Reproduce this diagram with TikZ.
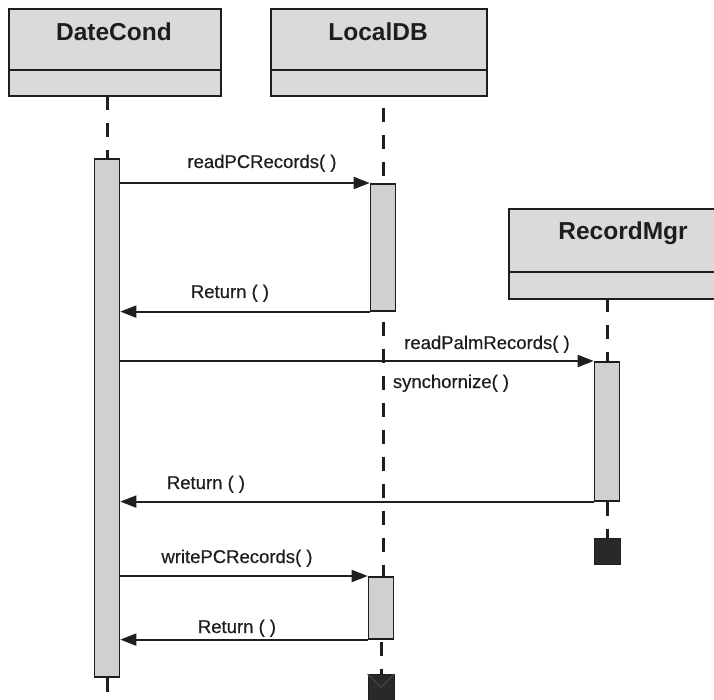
\documentclass[tikz,border=0pt]{standalone}
\usepackage{fontspec}
\setmainfont{Liberation Sans}
\newfontfamily\labelfont[FakeBold=0.5]{Liberation Sans}
\usetikzlibrary{arrows.meta}
\definecolor{hdrgray}{HTML}{DADADA}
\definecolor{actgray}{HTML}{D0D0D0}
\definecolor{ink}{HTML}{1E1E1E}
\tikzset{
  objbox/.style={draw=ink, line width=2pt, fill=hdrgray, anchor=north west, inner sep=0pt},
  objname/.style={font=\bfseries\fontsize{24.5}{28}\selectfont, text=ink, inner sep=0pt},
  actbox/.style={draw=ink, line width=1.6pt, fill=actgray, anchor=north, minimum width=25pt, inner sep=0pt},
  lifeline/.style={draw=ink, line width=3pt, dash pattern=on 14pt off 13pt},
  msg/.style={draw=ink, line width=1.8pt, -{Triangle[length=16pt,width=12pt]}},
  msglabel/.style={font=\labelfont\fontsize{18.5}{22}\selectfont, text=ink, inner sep=0pt, anchor=base},
  stopbox/.style={draw=ink, line width=1pt, fill=ink!95, minimum size=26pt, inner sep=0pt, anchor=north}
}
\begin{document}
\begin{tikzpicture}[x=1pt,y=-1pt]
\useasboundingbox (0,0) rectangle (714,700);
\clip (0,0) rectangle (714,700);

% object headers
\node[objbox, minimum width=212pt, minimum height=87pt] (dc) at (8,8) {};
\node[objbox, minimum width=216pt, minimum height=87pt] (ldb) at (270,8) {};
\node[objbox, minimum width=230pt, minimum height=90pt] (rm) at (508,208) {};
\draw[ink, line width=2pt] (8,70) -- (220,70);
\draw[ink, line width=2pt] (270,70) -- (486,70);
\draw[ink, line width=2pt] (508,272) -- (738,272);
\node[objname] (dcname) at (114,32) {DateCond};
\node[objname] (ldbname) at (378,32) {LocalDB};
\node[objname] (rmname) at (623,233) {RecordMgr};

% activation bars
\node[actbox, minimum height=518pt] (a1) at (107,158) {};
\node[actbox, minimum height=127pt] (b1) at (383,183) {};
\node[actbox, minimum height=139pt] (c1) at (607,361) {};
\node[actbox, minimum height=62pt, minimum width=25pt] (b2) at (381,576) {};

% lifelines
\coordinate (dcend) at (107,692);
\draw[lifeline] (107,96) -- (a1.north);
\draw[ink, line width=3pt] (a1.south) -- (dcend);
\draw[lifeline, dash phase=-12pt] (383,96) -- (b1.north);
\draw[lifeline, dash phase=-10pt] (b1.south) -- (b2.north -| b1.south);
\draw[lifeline] (607,298) -- (c1.north);

% destruction marks
\node[stopbox] (c1stop) at (607,538) {};
\draw[lifeline, dash phase=0pt] (c1.south) -- (c1stop.north);
\node[stopbox] (b2stop) at (381,674) {};
\draw[ink!80, line width=0.8pt] (b2stop.north west) -- (b2stop.center) -- (b2stop.north east);
\draw[lifeline, dash phase=-2pt] (b2.south) -- (b2stop.north);

% messages
\draw[msg] (a1.east |- b1.north) -- (b1.north west);
\node[msglabel] (m1) at (262,168) {readPCRecords( )};
\draw[msg] (b1.south west) -- (a1.east |- b1.south);
\node[msglabel] (m2) at (230,298) {Return ( )};
\draw[msg] (a1.east |- c1.north) -- (c1.north west);
\node[msglabel] (m3) at (487,349) {readPalmRecords( )};
\node[msglabel] (m4) at (451,388) {synchornize( )};
\draw[msg] (c1.south west) -- (a1.east |- c1.south);
\node[msglabel] (m5) at (206,489) {Return ( )};
\draw[msg] (a1.east |- b2.north) -- (b2.north west);
\node[msglabel] (m6) at (237,563) {writePCRecords( )};
\draw[msg] (b2.south west) -- (a1.east |- b2.south);
\node[msglabel] (m7) at (237,633) {Return ( )};
\end{tikzpicture}
\end{document}
